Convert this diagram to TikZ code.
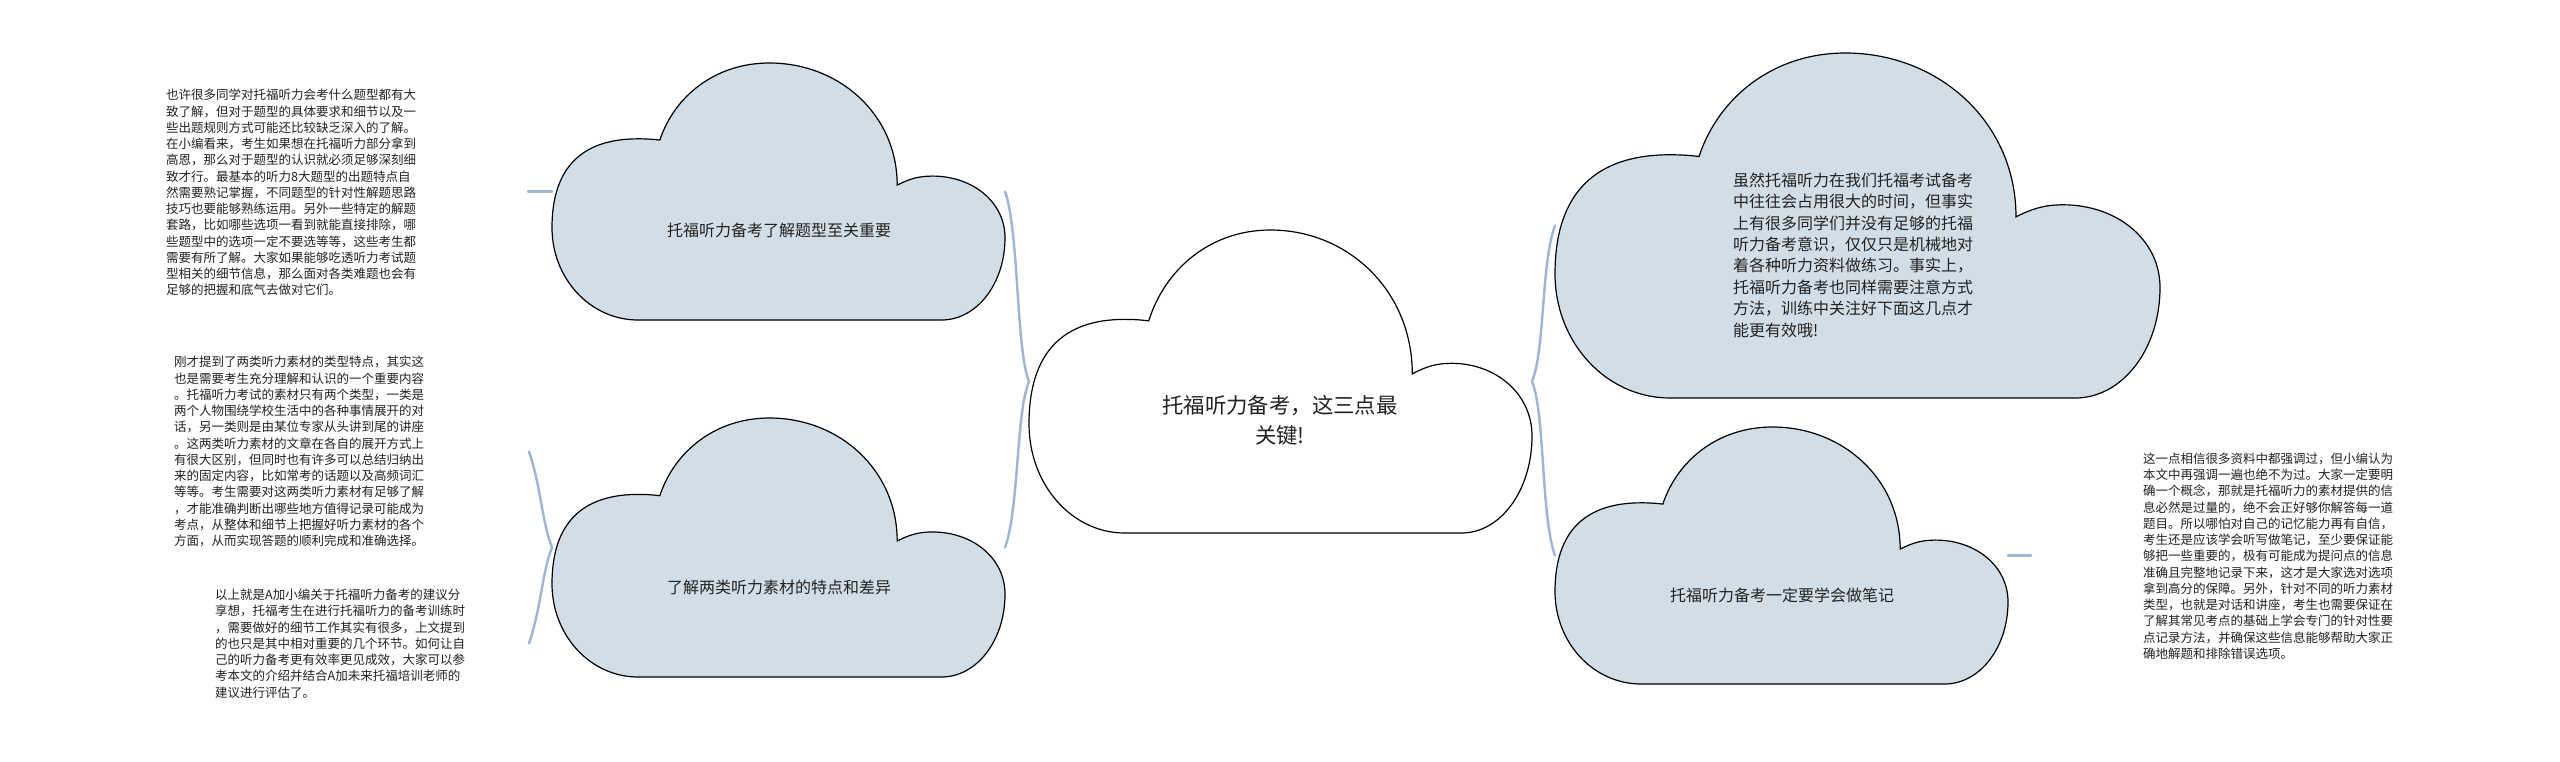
\documentclass[tikz,border=0pt]{standalone}
\usepackage{fontspec}
\setmainfont{Noto Sans CJK SC}
\definecolor{cloudfill}{RGB}{210,222,231}
\definecolor{linkblue}{RGB}{156,182,212}
\definecolor{txt}{RGB}{34,34,34}
\tikzset{
  cloudbox/.style={inner sep=0pt, outer sep=0pt},
  cloudline/.style={draw=black, line width=1.2pt},
  linkline/.style={draw=linkblue, line width=2.4pt, line cap=round},
  blocktext/.style={inner sep=0pt, anchor=west, align=left, text=txt, font=\fontsize{12.5pt}{16.25pt}\selectfont},
  cloudtext/.style={inner sep=0pt, text=txt, font=\fontsize{16pt}{21.4pt}\selectfont},
}
\newcommand\cloudshape[4]{%
  \begin{scope}[shift={(#1.north west)}, x=#2pt, y=-#3pt]
    \filldraw[cloudline, fill=#4] (0.238,0.30) .. controls (0.27,0.13) and (0.36,0) .. (0.48,0)
      .. controls (0.634,0) and (0.762,0.2) .. (0.762,0.475)
      .. controls (0.79,0.45) and (0.81,0.44) .. (0.84,0.44)
      .. controls (0.928,0.44) and (1,0.54) .. (1,0.68)
      .. controls (1,0.86) and (0.937,1) .. (0.86,1)
      -- (0.19,1)
      .. controls (0.085,1) and (0,0.84) .. (0,0.64)
      .. controls (0,0.40) and (0.07,0.295) .. (0.19,0.295)
      .. controls (0.21,0.295) and (0.225,0.297) .. (0.238,0.30) -- cycle;
  \end{scope}}
\begin{document}
\begin{tikzpicture}[x=1pt,y=-1pt]
\useasboundingbox (0,0) rectangle (2560,761);
\fill[white] (0,0) rectangle (2560,761);

% cloud boxes
\node[cloudbox, minimum width=503pt, minimum height=303pt] (c0) at (1280.5,381.5) {};
\node[cloudbox, minimum width=453pt, minimum height=257pt] (c1) at (778.5,191.5) {};
\node[cloudbox, minimum width=453pt, minimum height=259pt] (c2) at (778.5,547.5) {};
\node[cloudbox, minimum width=605pt, minimum height=345pt] (c3) at (1857.5,225.5) {};
\node[cloudbox, minimum width=453pt, minimum height=257pt] (c4) at (1781.5,555.5) {};

% free ends of connectors
\coordinate (t1c) at (528,191.5);
\coordinate (t2c) at (529,451.5);
\coordinate (t3c) at (529,643.5);
\coordinate (t4c) at (2031,555.5);

% connectors
\draw[linkline] (c0.west) .. controls +(-13,-31) and +(14,38) .. (c1.east);
\draw[linkline] (c0.west) .. controls +(-13,31) and +(14,-38) .. (c2.east);
\draw[linkline] (c0.east) .. controls +(13,-31) and +(-14,38) .. (c3.west);
\draw[linkline] (c0.east) .. controls +(13,31) and +(-14,-38) .. (c4.west);
\draw[linkline] (t1c) -- (c1.west);
\draw[linkline] (c2.west) .. controls +(-10,-25) and +(12,35) .. (t2c);
\draw[linkline] (c2.west) .. controls +(-10,25) and +(12,-35) .. (t3c);
\draw[linkline] (c4.east) -- (t4c);

% clouds
\cloudshape{c0}{503}{303}{white}
\cloudshape{c1}{453}{257}{cloudfill}
\cloudshape{c2}{453}{259}{cloudfill}
\cloudshape{c3}{605}{345}{cloudfill}
\cloudshape{c4}{453}{257}{cloudfill}

% cloud texts
\node[cloudtext, font=\fontsize{21.4pt}{30pt}\selectfont, align=center] (c0t) at (1280,420) {托福听力备考，这三点最\\关键!};
\node[cloudtext] (c1t) at (779,230) {托福听力备考了解题型至关重要};
\node[cloudtext] (c2t) at (779,587) {了解两类听力素材的特点和差异};
\node[cloudtext, anchor=west, align=left] (c3t) at (1733,255) {虽然托福听力在我们托福考试备考\\中往往会占用很大的时间，但事实\\上有很多同学们并没有足够的托福\\听力备考意识，仅仅只是机械地对\\着各种听力资料做练习。事实上，\\托福听力备考也同样需要注意方式\\方法，训练中关注好下面这几点才\\能更有效哦!};
\node[cloudtext] (c4t) at (1782,595) {托福听力备考一定要学会做笔记};

% side text blocks
\node[blocktext] (t1) at (166,192.5) {也许很多同学对托福听力会考什么题型都有大\\致了解，但对于题型的具体要求和细节以及一\\些出题规则方式可能还比较缺乏深入的了解。\\在小编看来，考生如果想在托福听力部分拿到\\高恩，那么对于题型的认识就必须足够深刻细\\致才行。最基本的听力8大题型的出题特点自\\然需要熟记掌握，不同题型的针对性解题思路\\技巧也要能够熟练运用。另外一些特定的解题\\套路，比如哪些选项一看到就能直接排除，哪\\些题型中的选项一定不要选等等，这些考生都\\需要有所了解。大家如果能够吃透听力考试题\\型相关的细节信息，那么面对各类难题也会有\\足够的把握和底气去做对它们。};
\node[blocktext] (t2) at (174,451.5) {刚才提到了两类听力素材的类型特点，其实这\\也是需要考生充分理解和认识的一个重要内容\\。托福听力考试的素材只有两个类型，一类是\\两个人物围绕学校生活中的各种事情展开的对\\话，另一类则是由某位专家从头讲到尾的讲座\\。这两类听力素材的文章在各自的展开方式上\\有很大区别，但同时也有许多可以总结归纳出\\来的固定内容，比如常考的话题以及高频词汇\\等等。考生需要对这两类听力素材有足够了解\\，才能准确判断出哪些地方值得记录可能成为\\考点，从整体和细节上把握好听力素材的各个\\方面，从而实现答题的顺利完成和准确选择。};
\node[blocktext] (t3) at (215,643.5) {以上就是A加小编关于托福听力备考的建议分\\享想，托福考生在进行托福听力的备考训练时\\，需要做好的细节工作其实有很多，上文提到\\的也只是其中相对重要的几个环节。如何让自\\己的听力备考更有效率更见成效，大家可以参\\考本文的介绍并结合A加未来托福培训老师的\\建议进行评估了。};
\node[blocktext] (t4) at (2143,556) {这一点相信很多资料中都强调过，但小编认为\\本文中再强调一遍也绝不为过。大家一定要明\\确一个概念，那就是托福听力的素材提供的信\\息必然是过量的，绝不会正好够你解答每一道\\题目。所以哪怕对自己的记忆能力再有自信，\\考生还是应该学会听写做笔记，至少要保证能\\够把一些重要的，极有可能成为提问点的信息\\准确且完整地记录下来，这才是大家选对选项\\拿到高分的保障。另外，针对不同的听力素材\\类型，也就是对话和讲座，考生也需要保证在\\了解其常见考点的基础上学会专门的针对性要\\点记录方法，并确保这些信息能够帮助大家正\\确地解题和排除错误选项。};
\end{tikzpicture}
\end{document}
